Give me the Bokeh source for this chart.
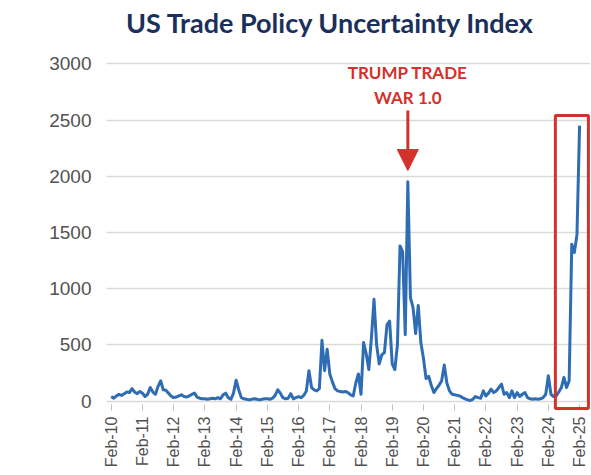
import math
from bokeh.plotting import figure
from bokeh.models import FixedTicker, Label, Arrow, NormalHead, BoxAnnotation
from bokeh.embed import file_html
from bokeh.resources import INLINE

TITLE = "US Trade Policy Uncertainty Index"
ANNOT_LINE1 = "TRUMP TRADE"
ANNOT_LINE2 = "WAR 1.0"

TICK_LABELS = ["Feb-10", "Feb-11", "Feb-12", "Feb-13", "Feb-14", "Feb-15", "Feb-16", "Feb-17",
               "Feb-18", "Feb-19", "Feb-20", "Feb-21", "Feb-22", "Feb-23", "Feb-24", "Feb-25"]
Y_TICKS = [0, 500, 1000, 1500, 2000, 2500, 3000]

# monthly index values, each row = Feb of year .. Jan of next year
Y2010 = [40, 25, 45, 60, 50, 65, 80, 75, 110, 80, 65, 85]
Y2011 = [70, 40, 60, 120, 80, 60, 130, 180, 100, 95, 70, 45]
Y2012 = [30, 35, 45, 55, 40, 35, 45, 60, 70, 35, 25, 20]
Y2013 = [20, 15, 20, 25, 20, 30, 20, 55, 70, 30, 15, 70]
Y2014 = [185, 100, 30, 20, 15, 10, 15, 20, 15, 10, 15, 20]
Y2015 = [20, 15, 25, 50, 100, 70, 30, 20, 25, 65, 20, 30]
Y2016 = [40, 30, 50, 90, 270, 120, 100, 90, 110, 540, 270, 460]
Y2017 = [240, 170, 110, 90, 85, 80, 85, 75, 55, 45, 160, 240]
Y2018 = [60, 520, 420, 280, 560, 905, 500, 330, 410, 430, 680, 710]
Y2019 = [330, 280, 500, 1380, 1330, 590, 1950, 920, 830, 600, 850, 520]
Y2020 = [380, 200, 220, 140, 75, 110, 140, 180, 320, 160, 90, 60]
Y2021 = [55, 50, 45, 30, 20, 10, 5, 15, 40, 30, 25, 90]
Y2022 = [45, 70, 105, 75, 90, 120, 150, 60, 75, 30, 90, 30]
Y2023 = [75, 40, 60, 75, 30, 20, 15, 20, 15, 20, 30, 60]
Y2024 = [225, 60, 40, 45, 80, 120, 210, 120, 180, 1395, 1320, 1480]
Y2025 = [2450]

VALUES = (Y2010 + Y2011 + Y2012 + Y2013 + Y2014 + Y2015 + Y2016 + Y2017 +
          Y2018 + Y2019 + Y2020 + Y2021 + Y2022 + Y2023 + Y2024 + Y2025)
MONTHS = list(range(len(VALUES)))
TICK_POS = [i * 12 for i in range(len(TICK_LABELS))]

PEAK_MONTH = 114        # Aug 2019 (Trump trade war 1.0 peak)
BOX_MONTHS = (170.7, 183.4)
BOX_VALUES = (-67, 2540)

RED = "#d3312c"
BLUE = "#2e6db4"
NAVY = "#1b2f5b"
GRAY = "#525252"

p = figure(width=590, height=474, output_backend="svg", toolbar_location=None,
           x_range=(-1.81, 184.2), y_range=(-84.5, 3563.2),
           min_border_left=106, min_border_right=0, min_border_top=0, min_border_bottom=64)
p.outline_line_color = None
p.background_fill_color = "white"

p.xgrid.visible = False
p.ygrid.ticker = FixedTicker(ticks=Y_TICKS)
p.ygrid.grid_line_color = "#d9d9d9"
p.ygrid.grid_line_width = 1.5

p.yaxis.ticker = FixedTicker(ticks=Y_TICKS)
p.yaxis.axis_line_color = None
p.yaxis.major_tick_line_color = None
p.yaxis.major_tick_out = 0
p.yaxis.major_tick_in = 0
p.yaxis.minor_tick_line_color = None
p.yaxis.major_label_text_font = "Liberation Sans"
p.yaxis.major_label_text_font_size = "19px"
p.yaxis.major_label_text_color = GRAY
p.yaxis.major_label_standoff = 15

p.xaxis.ticker = FixedTicker(ticks=TICK_POS)
p.xaxis.major_label_overrides = {pos: lab for pos, lab in zip(TICK_POS, TICK_LABELS)}
p.xaxis.major_label_orientation = math.pi / 2
p.xaxis.axis_line_color = None
p.xaxis.major_tick_line_color = "#bfbfbf"
p.xaxis.major_tick_in = 6
p.xaxis.major_tick_out = 0
p.xaxis.minor_tick_line_color = None
p.xaxis.major_label_text_font = "Liberation Sans"
p.xaxis.major_label_text_font_size = "16px"
p.xaxis.major_label_text_color = GRAY
p.xaxis.major_label_standoff = 6
p.xaxis.axis_label_standoff = 0

p.line(MONTHS, VALUES, line_color=BLUE, line_width=3, line_join="round")

p.add_layout(BoxAnnotation(left=BOX_MONTHS[0], right=BOX_MONTHS[1],
                           bottom=BOX_VALUES[0], top=BOX_VALUES[1],
                           fill_alpha=0, line_color=RED, line_alpha=1, line_width=3))

p.add_layout(Arrow(end=NormalHead(size=21, fill_color=RED, line_color=RED, line_width=1),
                   x_start=PEAK_MONTH, y_start=2584, x_end=PEAK_MONTH, y_end=2050,
                   line_color=RED, line_width=3))
for txt, yy in [(ANNOT_LINE1, 2922), (ANNOT_LINE2, 2700)]:
    p.add_layout(Label(x=PEAK_MONTH, y=yy, text=txt, text_align="center", text_baseline="middle",
                       text_font="Lato", text_font_style="bold", text_font_size="17px",
                       text_color=RED))

# chart title, placed above the 3000 grid line
p.add_layout(Label(x=84.3, y=3368, text=TITLE, text_align="center", text_baseline="alphabetic",
                   text_font="Lato", text_font_style="bold", text_font_size="27px",
                   text_color=NAVY))

open("out.html", "w").write(file_html(p, INLINE))
